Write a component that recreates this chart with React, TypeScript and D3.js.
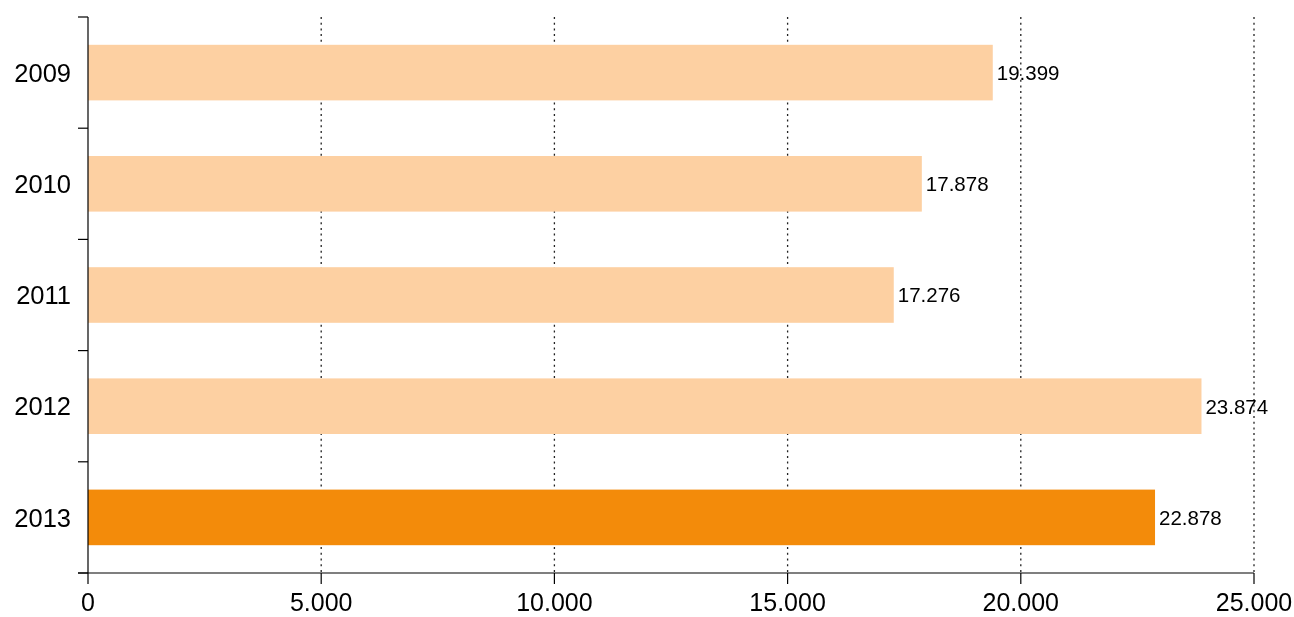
import React from "react";
import * as d3 from "d3";

const years = ["2009", "2010", "2011", "2012", "2013"];
const values = [19399, 17878, 17276, 23874, 22878];
const highlightYear = "2013";
const xTicks = [0, 5000, 10000, 15000, 20000, 25000];

const W = 1294;
const H = 617;
const margin = { left: 88, right: 40, top: 17, bottom: 44 };

const locale = d3.formatLocale({ decimal: ",", thousands: ".", grouping: [3], currency: ["", "€"] });
const fmt = locale.format(",d");

export default function App() {
  const x = d3.scaleLinear().domain([0, 25000]).range([margin.left, W - margin.right]);
  const y = d3
    .scaleBand<string>()
    .domain(years)
    .range([margin.top, H - margin.bottom])
    .paddingInner(0.5)
    .paddingOuter(0.25);
  const step = y.step();
  const y0 = margin.top;
  const y1 = H - margin.bottom;
  const font = "'Liberation Sans', Arial, Helvetica, sans-serif";

  return (
    <div style={{ position: "fixed", left: 0, top: 0 }}>
      <svg width={W} height={H} style={{ display: "block" }} fontFamily={font}>
        {/* gridlines */}
        {xTicks.filter((t) => t > 0).map((t) => (
          <line
            key={"g" + t}
            x1={x(t)}
            x2={x(t)}
            y1={y0}
            y2={y1}
            stroke="#222"
            strokeWidth={1.3}
            strokeDasharray="2,3.7"
          />
        ))}
        {/* bars */}
        {years.map((yr, i) => (
          <rect
            key={yr}
            x={x(0)}
            y={y(yr)}
            width={x(values[i]) - x(0)}
            height={y.bandwidth()}
            fill={yr === highlightYear ? "#f38b0a" : "#fdd0a2"}
          />
        ))}
        {/* value labels */}
        {years.map((yr, i) => (
          <text
            key={"v" + yr}
            x={x(values[i]) + 4}
            y={(y(yr) as number) + y.bandwidth() / 2}
            dy="0.36em"
            fontSize={20.5}
            fill="#000"
          >
            {fmt(values[i])}
          </text>
        ))}
        {/* y axis */}
        <line x1={x(0)} x2={x(0)} y1={y0} y2={y1} stroke="#000" strokeWidth={1.2} />
        {d3.range(years.length + 1).map((k) => (
          <line
            key={"yt" + k}
            x1={x(0) - 10}
            x2={x(0)}
            y1={y0 + k * step}
            y2={y0 + k * step}
            stroke="#000"
            strokeWidth={1.2}
          />
        ))}
        {years.map((yr) => (
          <text
            key={"yl" + yr}
            x={x(0) - 17}
            y={(y(yr) as number) + y.bandwidth() / 2}
            dy="0.36em"
            textAnchor="end"
            fontSize={25.5}
            fill="#000"
          >
            {yr}
          </text>
        ))}
        {/* x axis */}
        <line x1={x(0) - 10} x2={x(25000)} y1={y1} y2={y1} stroke="#000" strokeWidth={1.2} />
        {xTicks.map((t) => (
          <g key={"xt" + t}>
            <line x1={x(t)} x2={x(t)} y1={y1} y2={y1 + 11} stroke="#000" strokeWidth={1.2} />
            <text x={x(t)} y={y1 + 38} textAnchor="middle" fontSize={25} fill="#000">
              {fmt(t)}
            </text>
          </g>
        ))}
      </svg>
    </div>
  );
}
